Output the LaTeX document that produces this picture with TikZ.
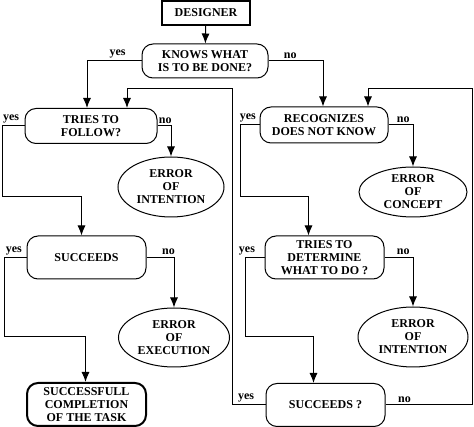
\documentclass[tikz,border=0pt]{standalone}
\usepackage{fontspec}
\setmainfont{Liberation Serif}
\usetikzlibrary{arrows.meta,shapes.geometric}
\tikzset{>={Latex[length=10pt,width=8pt]}}

\begin{document}
\begin{tikzpicture}[x=1pt,y=-1pt,font=\bfseries\fontsize{12}{13}\selectfont]
      \tikzstyle{decision}=[draw,line width=1pt,rounded corners=11pt,align=center,inner sep=0pt]
      \tikzstyle{terminal}=[draw,line width=2pt,align=center,inner sep=0pt]
      \tikzstyle{error}=[draw,ellipse,line width=1pt,align=center,inner sep=0pt]
      \tikzstyle{flow}=[line width=1pt,->]
      \tikzstyle{answer}=[above,inner sep=2pt]
      \useasboundingbox (0,0) rectangle (474,427);
      %%% boxes
      \node (designer) at (206,13) [terminal,minimum width=88pt,minimum height=24pt] {DESIGNER};
      \node (knows) at (205,61) [decision,minimum width=126pt,minimum height=34pt] {KNOWS WHAT\\IS TO BE DONE?};
      \node (follow) at (91,126) [decision,minimum width=132pt,minimum height=35pt] {TRIES TO\\FOLLOW?};
      \node (recog) at (324,125) [decision,minimum width=128pt,minimum height=36pt] {RECOGNIZES\\DOES NOT KNOW};
      \node (intent1) at (171,187) [error,minimum width=106pt,minimum height=60pt] {ERROR\\OF\\INTENTION};
      \node (concept) at (413,192) [error,minimum width=108pt,minimum height=50pt] {ERROR\\OF\\CONCEPT};
      \node (succ) at (86.5,257.5) [decision,minimum width=119pt,minimum height=43pt] {SUCCEEDS};
      \node (execution) at (174,337.5) [error,minimum width=111pt,minimum height=59pt] {ERROR\\OF\\EXECUTION};
      \node (determine) at (324.5,257.5) [decision,minimum width=119pt,minimum height=43pt] {TRIES TO\\DETERMINE\\WHAT TO DO ?};
      \node (intent2) at (413,337) [error,minimum width=110pt,minimum height=60pt] {ERROR\\OF\\INTENTION};
      \node (complete) at (86.5,404.5) [terminal,rounded corners=11pt,minimum width=119pt,minimum height=43pt] {SUCCESSFULL\\COMPLETION\\OF THE TASK};
      \node (succq) at (325.5,405) [decision,minimum width=119pt,minimum height=43pt] {SUCCEEDS ?};
      %%% corners of the connectors
      \coordinate (c1) at (2,197);
      \coordinate (c2) at (4,337);
      \coordinate (c3) at (240,197);
      \coordinate (c4) at (245,337);
      \coordinate (c5) at (232,89);
      \coordinate (c6) at (472,89);
      %%% connectors
      \draw[flow] (designer) -- (knows);
      \draw[flow] (knows.west) -| node[answer,pos=0.22]{yes} ([xshift=-4pt]follow.north);
      \draw[flow] (knows.east) -| node[answer,pos=0.2]{no} ([xshift=-1pt]recog.north);
      \draw[flow] (follow.west) -| node[answer,pos=0.3]{yes} (c1) -| ([xshift=-5pt]succ.north);
      \draw[flow] (follow.east) -| node[answer,pos=0.29]{no} (intent1.north);
      \draw[flow] (succ.west) -| node[answer,pos=0.28]{yes} (c2) -| ([xshift=-1pt]complete.north);
      \draw[flow] (succ.east) -| node[answer,pos=0.4]{no} (execution.north);
      \draw[flow] (recog.west) -| node[answer,pos=0.3]{yes} (c3) -| ([xshift=-16pt]determine.north);
      \draw[flow] (recog.east) -| node[answer,pos=0.3]{no} (concept.north);
      \draw[flow] (determine.west) -| node[answer,pos=0.45]{yes} (c4) -| ([xshift=-12pt]succq.north);
      \draw[flow] (determine.east) -| node[answer,pos=0.33]{no} (intent2.north);
      \draw[flow] (succq.west) -| node[answer,pos=0.29]{yes} (c5) -| ([xshift=36pt]follow.north);
      \draw[flow] (succq.east) -| node[answer,pos=0.11]{no} (c6) -| ([xshift=44pt]recog.north);
\end{tikzpicture}
\end{document}
